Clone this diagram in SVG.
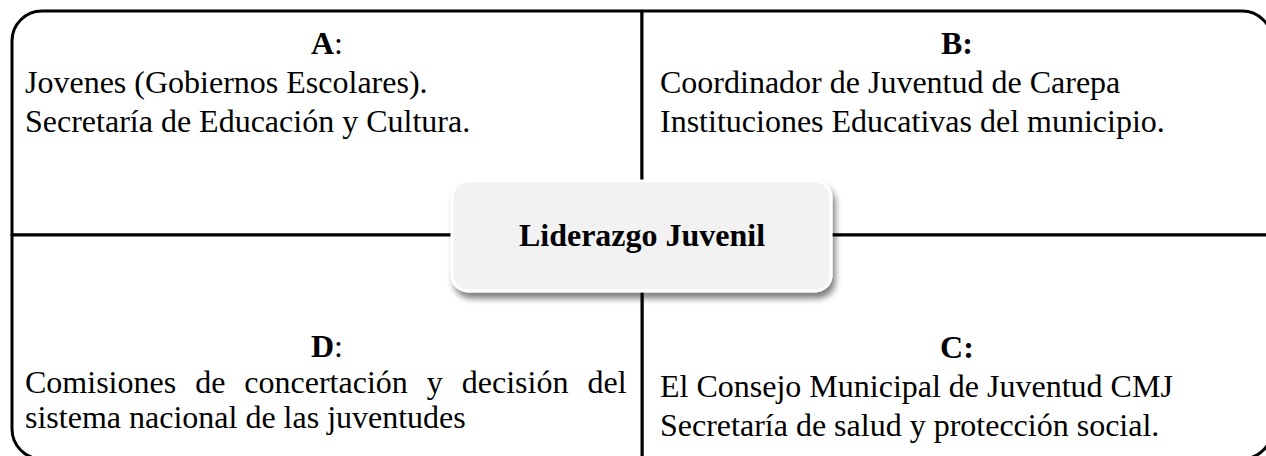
<svg xmlns="http://www.w3.org/2000/svg" width="1266" height="456" viewBox="0 0 1266 456">
<defs>
<style>
.q{fill:#ffffff;stroke:#000000;stroke-width:3;stroke-linejoin:round}
.t{font-family:"Liberation Serif","Times New Roman",serif;font-size:32px;fill:#000000}
.b{font-weight:bold}
.c{font-family:"Liberation Serif","Times New Roman",serif;font-size:32px;font-weight:bold;fill:#000000}
</style>
<filter id="sh" x="-10%" y="-20%" width="125%" height="150%">
<feGaussianBlur in="SourceAlpha" stdDeviation="3"/>
<feOffset dx="3" dy="6" result="o"/>
<feComponentTransfer><feFuncA type="linear" slope="0.5"/></feComponentTransfer>
<feMerge><feMergeNode/><feMergeNode in="SourceGraphic"/></feMerge>
</filter>
</defs>
<rect width="1266" height="456" fill="#ffffff"/>
<g id="nodeA">
<path class="q" d="M12,235 V41 A30,30 0 0 1 42,11 H642 V235 Z"/>
<text class="t" x="327" y="54" text-anchor="middle"><tspan class="b">A</tspan>:</text>
<text class="t" x="25" y="93">Jovenes (Gobiernos Escolares).</text>
<text class="t" x="25" y="132">Secretaría de Educación y Cultura.</text>
</g>
<g id="nodeB">
<path class="q" d="M642,11 H1242 A30,30 0 0 1 1272,41 V235 H642 Z"/>
<text class="t b" x="957" y="54" text-anchor="middle">B:</text>
<text class="t" x="660" y="93">Coordinador de Juventud de Carepa</text>
<text class="t" x="660" y="132">Instituciones Educativas del municipio.</text>
</g>
<g id="nodeC">
<path class="q" d="M642,235 H1272 V429 A30,30 0 0 1 1242,459 H642 Z"/>
<text class="t b" x="957" y="358" text-anchor="middle">C:</text>
<text class="t" x="660" y="397">El Consejo Municipal de Juventud CMJ</text>
<text class="t" x="660" y="436">Secretaría de salud y protección social.</text>
</g>
<g id="nodeD">
<path class="q" d="M12,235 H642 V459 H42 A30,30 0 0 1 12,429 Z"/>
<text class="t" x="327" y="357" text-anchor="middle"><tspan class="b">D</tspan>:</text>
<text class="t" x="25" y="393" word-spacing="11">Comisiones de concertación y decisión del</text>
<text class="t" x="25" y="428">sistema nacional de las juventudes</text>
</g>
<g id="connectors"></g>
<g id="center">
<rect x="452" y="181" width="379" height="110" rx="16" ry="16" fill="#f2f2f2" stroke="#ffffff" stroke-width="3" filter="url(#sh)"/>
<text class="c" x="642" y="246" text-anchor="middle">Liderazgo Juvenil</text>
</g>
</svg>
